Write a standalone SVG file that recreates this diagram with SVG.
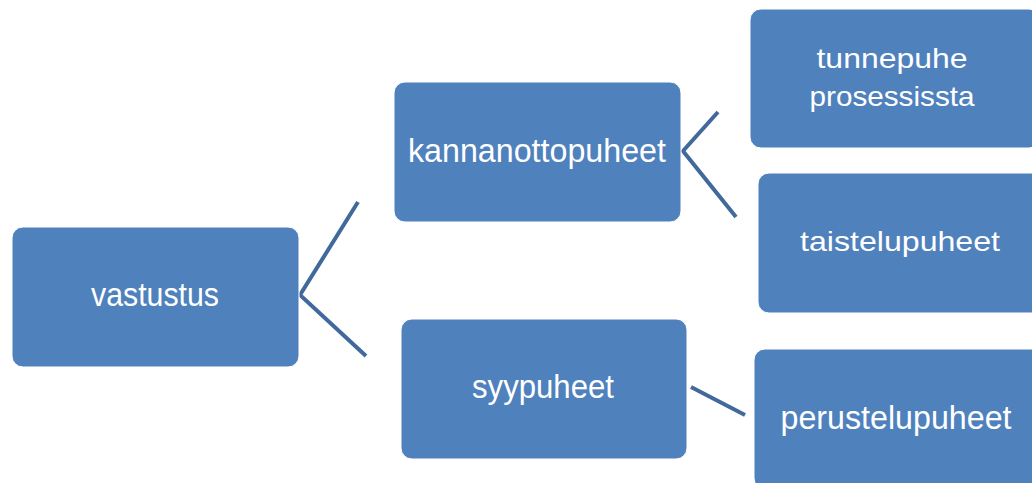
<svg xmlns="http://www.w3.org/2000/svg" width="1032" height="483" viewBox="0 0 1032 483">
<style>
.box{fill:#4F81BD;stroke:#ffffff;stroke-width:1}
.lbl{fill:#ffffff;font-family:"Liberation Sans",Arial,sans-serif;font-size:33px;text-anchor:middle}
.sm{font-size:28px}
.con{stroke:#41699C;stroke-width:4;fill:none}
</style>
<rect width="1032" height="483" fill="#ffffff"/>
<g id="connectors">
<polyline class="con" points="358,202 300,295 366,356"/>
<polyline class="con" points="718,112 683,151 736,217"/>
<line class="con" x1="691" y1="387" x2="745" y2="415"/>
</g>
<g id="vastustus">
<rect class="box" x="12" y="227" width="287" height="140" rx="11"/>
<text class="lbl" x="155" y="306" textLength="128" lengthAdjust="spacingAndGlyphs">vastustus</text>
</g>
<g id="kannanottopuheet">
<rect class="box" x="394" y="82" width="287" height="140" rx="11"/>
<text class="lbl" x="537" y="162" textLength="258" lengthAdjust="spacingAndGlyphs">kannanottopuheet</text>
</g>
<g id="tunnepuhe">
<rect class="box" x="750" y="9" width="290" height="139" rx="11"/>
<text class="lbl sm" x="892" y="68" textLength="151" lengthAdjust="spacingAndGlyphs">tunnepuhe</text>
<text class="lbl sm" x="892" y="106" textLength="165" lengthAdjust="spacingAndGlyphs">prosessissta</text>
</g>
<g id="taistelupuheet">
<rect class="box" x="758" y="173" width="290" height="140" rx="11"/>
<text class="lbl sm" x="900" y="251" textLength="200" lengthAdjust="spacingAndGlyphs">taistelupuheet</text>
</g>
<g id="syypuheet">
<rect class="box" x="401" y="319" width="286" height="140" rx="11"/>
<text class="lbl" x="543" y="398" textLength="142" lengthAdjust="spacingAndGlyphs">syypuheet</text>
</g>
<g id="perustelupuheet">
<rect class="box" x="754" y="349" width="290" height="140" rx="11"/>
<text class="lbl" x="896" y="429" textLength="231" lengthAdjust="spacingAndGlyphs">perustelupuheet</text>
</g>
</svg>
